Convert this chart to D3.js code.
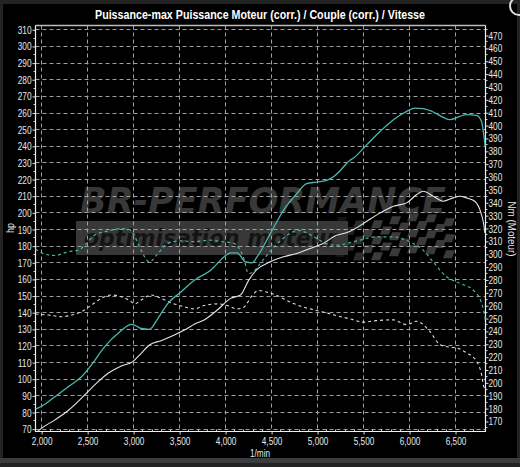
<!DOCTYPE html>
<html><head><meta charset="utf-8">
<script src="https://cdn.jsdelivr.net/npm/d3@7"></script>
<style>
html,body{margin:0;padding:0;background:#262626;}
svg{display:block;}
text{font-family:"Liberation Sans","Arial",sans-serif;}
</style></head>
<body>
<script>
// ---------- data ----------
const titleText = "Puissance-max Puissance Moteur (corr.) / Couple (corr.) / Vitesse";
const xTicks = [2000,2500,3000,3500,4000,4500,5000,5500,6000,6500];
const hpTicks = d3.range(70, 311, 10);
const nmTicks = d3.range(170, 471, 10);

// tuned power (teal solid, hp)
const powerTunedRpm = [1935,2036,2144,2289,2433,2560,2650,2750,2830,2930,2975,3030,3082,3172,3263,3371,3515,3660,3838,3982,4054,4126,4216,4288,4342,4486,4629,4773,4881,4989,5097,5169,5247,5349,5392,5536,5681,5825,5969,6060,6150,6258,6366,6439,6547,6619,6727,6782,6807,6822];
const powerTunedHp  = [82,85,89.5,95.5,101.5,110,117,123.5,127.5,132,133,132,130.5,130,136.5,145.5,152.5,159.5,165.5,173.5,176,176,170.5,170,173.5,187.5,201.5,211.5,217.5,218.5,219.5,221.5,225.5,231.5,233,241,249,256,261,263,262.6,260.6,257.4,256,258,259,258.6,255,247,240];

// stock power (white solid, hp)
const powerStockRpm = [1959,2000,2144,2289,2433,2577,2722,2866,2992,3082,3172,3299,3443,3587,3659,3766,3910,4054,4162,4252,4342,4486,4629,4773,4917,5061,5205,5313,5392,5536,5681,5825,5969,6078,6150,6258,6366,6475,6547,6619,6709,6764,6807,6820];
const powerStockHp  = [68.8,70.6,75.6,81.2,88.6,96.6,103.6,108,110.6,115.6,120.6,123.2,126.6,130.6,133,135.6,141.6,148.6,150.6,159.6,166,170.6,173.6,175.6,178.6,181.6,186.5,188,190,195,200,204,206,211,213,210,207,209,210,209,207,202,193,188];

// tuned torque (teal dashed, Nm)
const torqueTunedRpm = [1933,2036,2144,2289,2397,2469,2577,2722,2866,2956,3010,3082,3172,3263,3371,3515,3659,3838,3982,4060,4120,4192,4250,4310,4380,4446,4554,4699,4790,4900,4989,5100,5207,5350,5460,5641,5822,6003,6148,6257,6402,6547,6691,6783,6810,6824];
const torqueTunedNm  = [304,300,299,302,303,307,315,318,320,319,314,303,294,300.5,308.4,310.4,309.8,310.9,309.6,309,307,298,285,287,293,299,307.5,316.2,318.5,316,312.3,308,307,309,311,313.5,313.5,309.6,303.2,294,282.5,277.4,272.2,262,255,249];

// stock torque (white dashed, Nm)
const torqueStockRpm = [1933,2072,2216,2325,2433,2541,2649,2758,2866,2974,3010,3082,3190,3299,3407,3551,3659,3766,3910,4018,4126,4198,4288,4360,4450,4558,4702,4846,4990,5134,5277,5351,5496,5641,5822,5967,6076,6220,6329,6437,6510,6620,6728,6783,6808,6822];
const torqueStockNm  = [253.5,252.7,251.4,252.7,255.3,260.5,265.7,268.3,267,263.1,261.3,264.4,268.3,265.7,262.3,259.2,257.5,260.1,261.4,260.1,257.5,258.8,267.9,271.8,270.5,267.9,262.8,258.9,256.3,253.7,251,249.8,247.2,248.4,249,245.3,247.9,240.1,229.8,227.7,227.2,223.3,216.9,206.6,197,196];

// ---------- layout ----------
const W = 520, H = 467;
const L = 35.5, R = 485.5, T = 25.5, B = 431.5;
const svg = d3.select("body").append("svg").attr("width", W).attr("height", H);

svg.append("rect").attr("x",0).attr("y",0).attr("width",W).attr("height",H).attr("fill","#232323");
svg.append("rect").attr("x",3).attr("y",4).attr("width",514).attr("height",454).attr("fill","#000");
svg.append("rect").attr("x",0).attr("y",458).attr("width",W).attr("height",5).attr("fill","#3d3d3d");
svg.append("circle").attr("cx",519).attr("cy",6).attr("r",9).attr("fill","none").attr("stroke","#ddd").attr("stroke-width",2);

const x = d3.scaleLinear().domain([1933, 6826]).range([L, R]);
const yL = d3.scaleLinear().domain([68.6, 312.6]).range([B, T]);
const yR = d3.scaleLinear().domain([162.2, 477.8]).range([B, T]);
const px = v => Math.round(v - 0.5) + 0.5;
// condensed text width helper
const condLen = s => [...String(s)].reduce((a, ch) => a + (/[0-9]/.test(ch) ? 4.6 : 2.2), 0);

// ---------- watermark ----------
const wm = svg.append("g");
wm.append("rect").attr("x",76).attr("y",221).attr("width",272).attr("height",34).attr("fill","#383838");
const cw = 9, ch = 8;
for (let c = 0; c < 13; c++) {
  for (let r = 0; r < 5; r++) {
    if ((c + r) % 2) continue;
    const cx = 335 + c * cw;
    const wave = 4 * Math.sin(c * 0.55);
    const cy = 217 + r * ch + wave;
    const op = c < 3 ? 0.35 + c * 0.2 : 1;
    wm.append("path")
      .attr("d", `M${cx+3},${cy} L${cx+cw+3},${cy} L${cx+cw},${cy+ch} L${cx},${cy+ch} Z`)
      .attr("fill", "#3a3a3a").attr("opacity", op);
  }
}
for (let i = 0; i < 6; i++) {
  wm.append("path").attr("d", `M${290+i*7},${238+i*2} l30,-3 l-2,4 l-30,3 Z`).attr("fill","#333").attr("opacity",0.5);
}
wm.append("text").attr("x",80).attr("y",213).text("BR-PERFORMANCE")
  .attr("textLength",366).attr("lengthAdjust","spacingAndGlyphs")
  .style("font-family","'DejaVu Sans',sans-serif")
  .attr("font-size",36).attr("font-weight","bold").attr("font-style","italic").attr("fill","#383838");
wm.append("text").attr("x",84).attr("y",246).text("optimisation moteur")
  .attr("textLength",253).attr("lengthAdjust","spacingAndGlyphs")
  .style("font-family","'DejaVu Sans',sans-serif")
  .attr("font-size",23).attr("font-weight","bold").attr("font-style","italic").attr("fill","#141414");

// ---------- grid ----------
const grid = svg.append("g").attr("stroke","#a0a0a0").attr("stroke-width",1).attr("stroke-dasharray","4,3");
xTicks.forEach(t => grid.append("line").attr("x1",px(x(t))).attr("x2",px(x(t))).attr("y1",T).attr("y2",B));
hpTicks.forEach(t => grid.append("line").attr("y1",px(yL(t))).attr("y2",px(yL(t))).attr("x1",L).attr("x2",R));

// ---------- axes ----------
const axL = svg.append("g").attr("transform",`translate(${L},0)`)
  .call(d3.axisLeft(yL).tickValues(hpTicks).tickSize(3).tickPadding(1).tickFormat(d3.format("d")));
const axR = svg.append("g").attr("transform",`translate(${R},0)`)
  .call(d3.axisRight(yR).tickValues(nmTicks).tickSize(3).tickPadding(0).tickFormat(d3.format("d")));
const axB = svg.append("g").attr("transform",`translate(0,${B})`)
  .call(d3.axisBottom(x).tickValues(xTicks).tickSize(3).tickPadding(3).tickFormat(d3.format(",")));
[axL, axR, axB].forEach(a => {
  a.select(".domain").remove();
  a.selectAll(".tick line").attr("stroke","#ddd");
  a.selectAll(".tick text").attr("fill","#e6e6e6").attr("font-size",11)
   .attr("font-family","'Liberation Sans',sans-serif")
   .attr("textLength", function(){ return condLen(this.textContent); })
   .attr("lengthAdjust","spacingAndGlyphs");
});
const minorHp = d3.range(70, 313, 5).filter(v => v % 10);
minorHp.forEach(v => svg.append("line").attr("x1",L-2).attr("x2",L).attr("y1",px(yL(v))).attr("y2",px(yL(v))).attr("stroke","#ccc"));
const minorNm = d3.range(165, 478, 5).filter(v => v % 10);
minorNm.forEach(v => svg.append("line").attr("x1",R).attr("x2",R+2).attr("y1",px(yR(v))).attr("y2",px(yR(v))).attr("stroke","#ccc"));
const minorRpm = d3.range(2000, 6800, 100).filter(v => v % 500);
minorRpm.forEach(v => svg.append("line").attr("x1",px(x(v))).attr("x2",px(x(v))).attr("y1",B-2).attr("y2",B).attr("stroke","#ccc"));

// frame
svg.append("path").attr("d",`M${L},${T}H${R}`).attr("stroke","#bdbdbd").attr("stroke-width",1.5).attr("fill","none");
svg.append("path").attr("d",`M${L},${T}V${B}H${R}V${T}`).attr("stroke","#f0f0f0").attr("stroke-width",1.2).attr("fill","none");

// ---------- series ----------
const series = [
  {rpm: torqueStockRpm, val: torqueStockNm, y: yR, color: "#dedede", dash: "3,3", w: 1.1},
  {rpm: torqueTunedRpm, val: torqueTunedNm, y: yR, color: "#49b3aa", dash: "3,3", w: 1.2},
  {rpm: powerStockRpm, val: powerStockHp, y: yL, color: "#e6e6e6", dash: null, w: 1.1},
  {rpm: powerTunedRpm, val: powerTunedHp, y: yL, color: "#49b8b0", dash: null, w: 1.3}
];
series.forEach(s => {
  const pts = s.rpm.map((r, i) => [r, s.val[i]]);
  const line = d3.line().x(d => x(d[0])).y(d => s.y(d[1])).curve(d3.curveMonotoneX);
  svg.append("path").datum(pts).attr("d", line).attr("fill","none")
    .attr("stroke", s.color).attr("stroke-width", s.w)
    .attr("stroke-dasharray", s.dash);
});

// ---------- titles ----------
svg.append("text").attr("x",260).attr("y",19).attr("text-anchor","middle").text(titleText)
  .attr("textLength",330).attr("lengthAdjust","spacingAndGlyphs")
  .attr("fill","#fff").attr("font-size",12.5).attr("font-weight","bold");
svg.append("text").attr("x",260).attr("y",457).attr("text-anchor","middle").text("1/min")
  .attr("textLength",20).attr("lengthAdjust","spacingAndGlyphs")
  .attr("fill","#e6e6e6").attr("font-size",11);
svg.append("text").attr("transform","translate(14,228) rotate(-90)").attr("text-anchor","middle").text("hp")
  .attr("textLength",10).attr("lengthAdjust","spacingAndGlyphs")
  .attr("fill","#e6e6e6").attr("font-size",11);
svg.append("text").attr("transform","translate(508,229) rotate(90)").attr("text-anchor","middle").text("Nm (Moteur)")
  .attr("textLength",55).attr("lengthAdjust","spacingAndGlyphs")
  .attr("fill","#e6e6e6").attr("font-size",11);
</script>
</body></html>
